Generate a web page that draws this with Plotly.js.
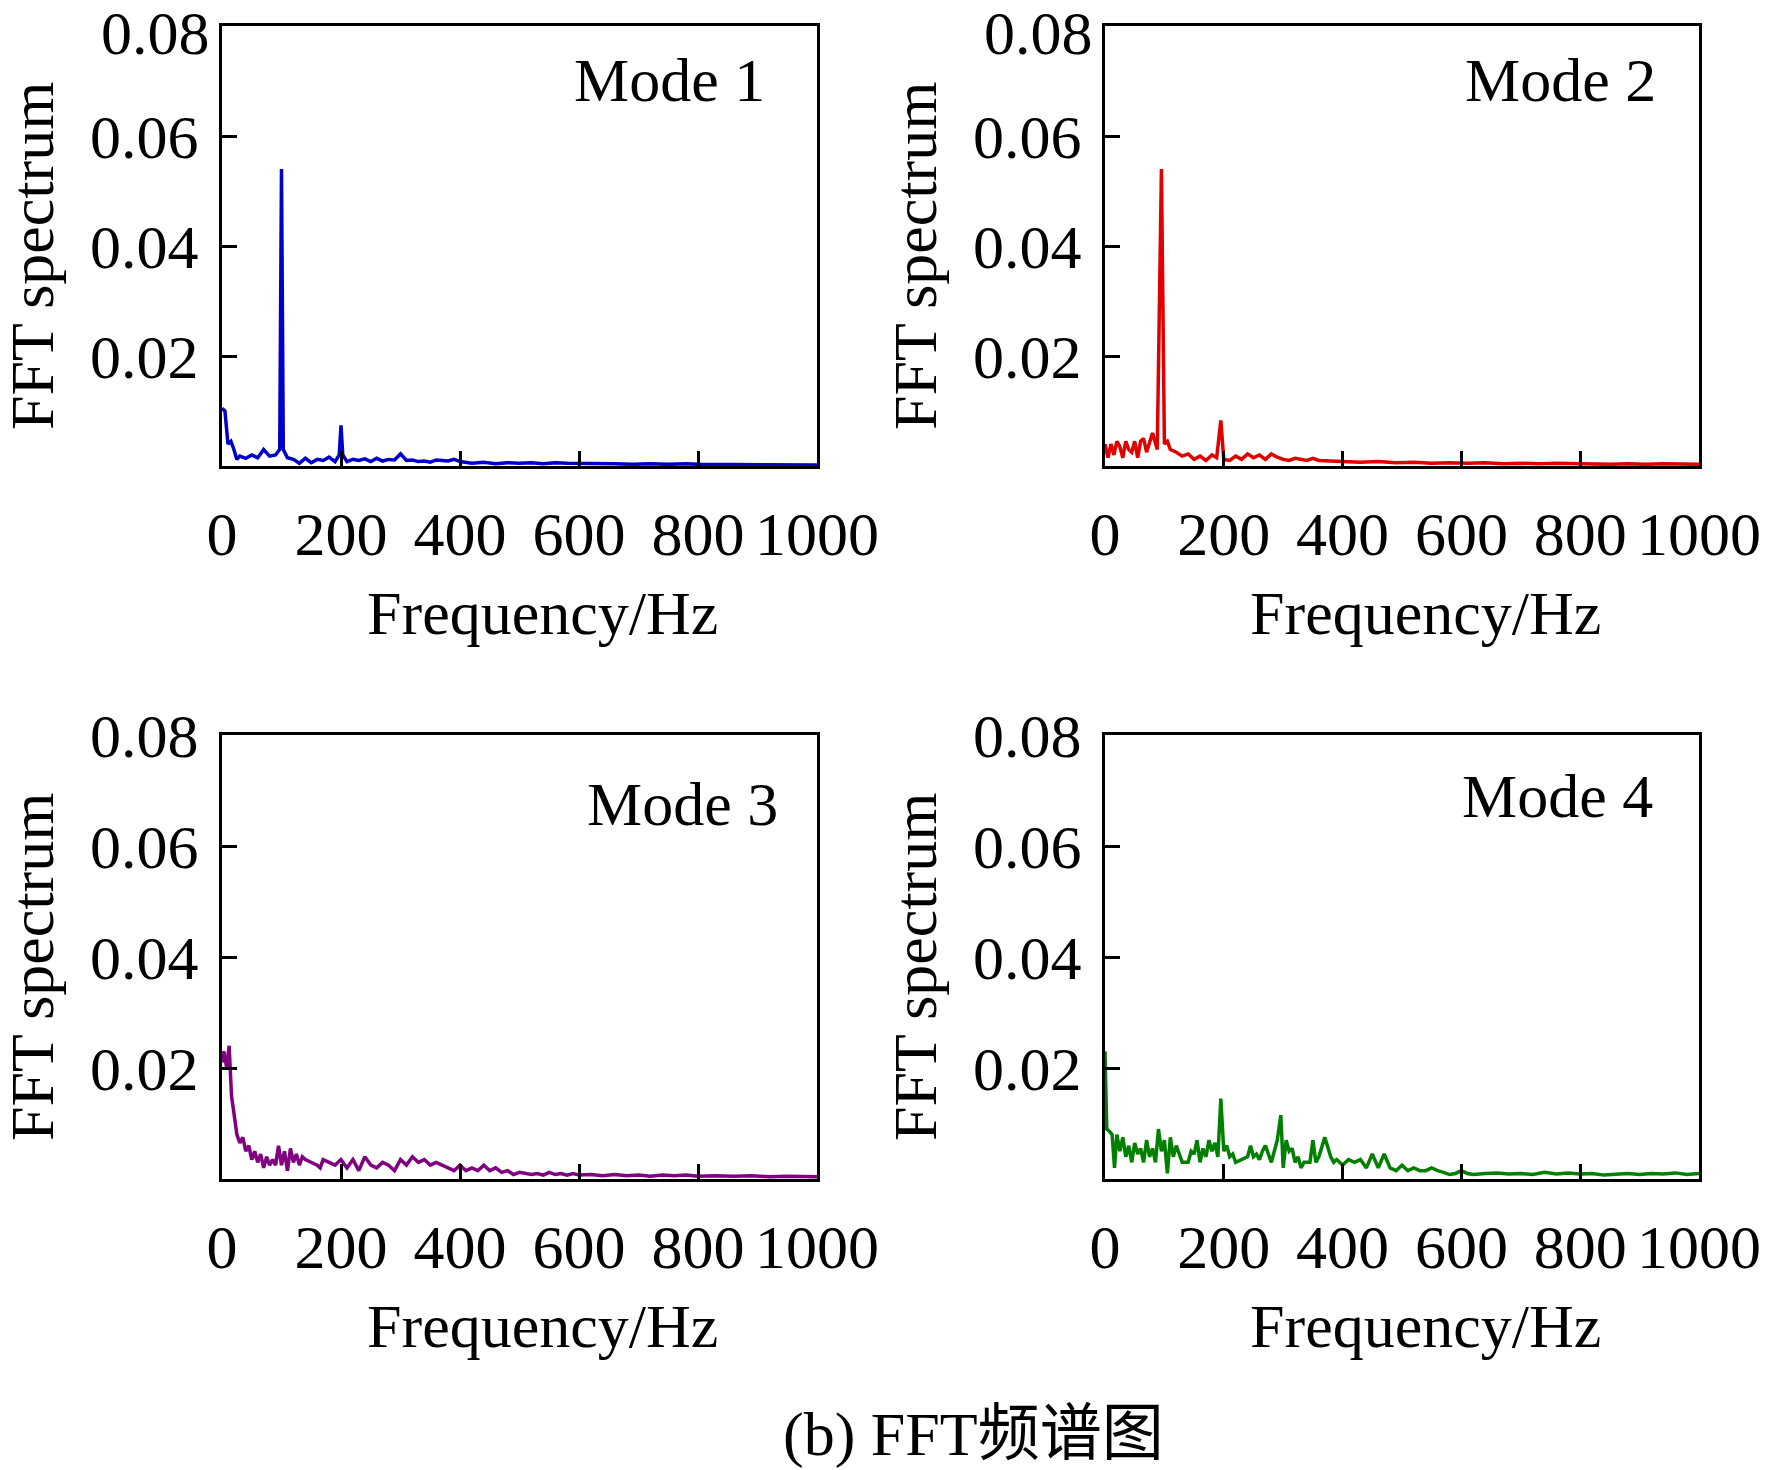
<!DOCTYPE html>
<html>
<head>
<meta charset="utf-8">
<script src="https://cdn.plot.ly/plotly-3.0.1.min.js"></script>
<style>html,body{margin:0;padding:0;background:#fff}#chart{width:1788px;height:1470px}</style>
</head>
<body>
<div id="chart"></div>
<script>
// FFT spectra of four modes
const modeNames = ['Mode 1', 'Mode 2', 'Mode 3', 'Mode 4'];
const modeColors = ['#0000c8', '#e00000', '#800080', '#008000'];

const freq1 = [0,5,10,15,20,25,30,40,50,60,70,80,90,97,100,103,110,120,130,140,150,160,170,180,190,197,200,203,210,220,230,240,250,260,270,280,290,300,310,320,330,340,350,360,370,380,390,400,420,440,460,480,500,520,540,560,580,600,630,660,690,720,750,780,800,830,860,890,920,950,980,1000];
const amp1 = [0.0105,0.0100,0.0040,0.0045,0.0030,0.0012,0.0018,0.0014,0.0020,0.0015,0.0030,0.0018,0.0020,0.0030,0.0540,0.0030,0.0015,0.0012,0.0005,0.0014,0.0006,0.0012,0.0010,0.0016,0.0008,0.0020,0.0074,0.0020,0.0008,0.0012,0.0010,0.0013,0.0008,0.0014,0.0009,0.0012,0.0011,0.0022,0.0010,0.0011,0.0008,0.0009,0.0007,0.0011,0.0010,0.0009,0.0012,0.0008,0.0005,0.0007,0.0004,0.0006,0.0005,0.0006,0.0004,0.0006,0.0005,0.0005,0.0004,0.0004,0.0003,0.0004,0.0003,0.0004,0.0003,0.0003,0.0003,0.0002,0.0003,0.0002,0.0003,0.0002];

const freq2 = [0,5,10,15,20,25,30,35,40,45,50,55,60,65,70,75,80,88,95,100,105,110,120,130,140,150,160,170,180,188,195,200,210,220,230,240,250,260,270,280,290,300,310,320,330,340,350,360,380,400,430,460,490,520,550,580,610,640,670,700,730,760,790,820,850,880,910,940,970,1000];
const amp2 = [0.0040,0.0015,0.0040,0.0020,0.0045,0.0035,0.0015,0.0045,0.0030,0.0025,0.0045,0.0015,0.0045,0.0050,0.0025,0.0045,0.0060,0.0030,0.0540,0.0040,0.0045,0.0030,0.0025,0.0018,0.0022,0.0012,0.0018,0.0010,0.0020,0.0015,0.0083,0.0012,0.0010,0.0018,0.0012,0.0022,0.0015,0.0020,0.0012,0.0022,0.0016,0.0012,0.0010,0.0014,0.0012,0.0010,0.0014,0.0010,0.0009,0.0008,0.0007,0.0008,0.0006,0.0007,0.0005,0.0006,0.0005,0.0006,0.0004,0.0005,0.0004,0.0005,0.0004,0.0004,0.0003,0.0004,0.0003,0.0004,0.0003,0.0003];

const freq3 = [0,3,8,12,16,20,25,30,35,40,45,50,55,60,65,70,75,80,85,90,95,100,105,110,115,120,125,130,135,140,150,160,165,170,180,190,200,210,220,230,240,250,260,270,280,290,300,310,320,330,340,350,360,370,380,390,400,410,420,430,440,450,460,470,480,490,500,510,520,530,540,550,560,570,580,590,600,620,640,660,680,700,720,740,760,780,800,830,860,890,920,950,980,1000];
const amp3 = [0.0210,0.0230,0.0200,0.0240,0.0150,0.0120,0.0080,0.0065,0.0075,0.0050,0.0060,0.0035,0.0050,0.0030,0.0045,0.0020,0.0040,0.0025,0.0035,0.0025,0.0060,0.0025,0.0050,0.0015,0.0055,0.0030,0.0045,0.0025,0.0040,0.0035,0.0030,0.0025,0.0020,0.0035,0.0030,0.0025,0.0035,0.0020,0.0035,0.0015,0.0040,0.0025,0.0020,0.0030,0.0025,0.0015,0.0035,0.0025,0.0040,0.0030,0.0035,0.0025,0.0030,0.0025,0.0020,0.0015,0.0025,0.0015,0.0020,0.0015,0.0025,0.0015,0.0020,0.0012,0.0015,0.0008,0.0012,0.0010,0.0008,0.0010,0.0007,0.0012,0.0008,0.0010,0.0007,0.0010,0.0007,0.0008,0.0006,0.0008,0.0006,0.0007,0.0005,0.0007,0.0006,0.0007,0.0005,0.0006,0.0005,0.0006,0.0004,0.0005,0.0004,0.0004];

const freq4 = [0,3,8,12,16,20,25,30,35,40,45,50,55,60,65,70,75,80,85,90,95,100,105,110,115,120,125,130,140,145,150,155,160,165,170,175,180,185,190,195,200,205,210,215,220,230,240,245,250,255,260,265,270,280,290,296,300,305,310,315,320,325,330,335,345,350,355,360,370,380,385,390,400,410,420,430,440,450,460,470,480,490,500,510,520,530,540,550,560,570,580,590,600,610,620,640,660,680,700,720,740,760,780,800,820,840,860,880,900,920,940,960,980,1000];
const amp4 = [0.0230,0.0090,0.0085,0.0080,0.0020,0.0080,0.0050,0.0075,0.0040,0.0060,0.0030,0.0065,0.0045,0.0055,0.0030,0.0070,0.0040,0.0055,0.0030,0.0090,0.0050,0.0070,0.0010,0.0075,0.0040,0.0060,0.0045,0.0030,0.0030,0.0050,0.0045,0.0070,0.0030,0.0055,0.0040,0.0070,0.0050,0.0065,0.0040,0.0145,0.0050,0.0060,0.0040,0.0045,0.0030,0.0035,0.0040,0.0060,0.0040,0.0045,0.0035,0.0050,0.0060,0.0030,0.0070,0.0115,0.0020,0.0070,0.0050,0.0055,0.0030,0.0040,0.0020,0.0030,0.0030,0.0070,0.0030,0.0040,0.0075,0.0040,0.0030,0.0035,0.0025,0.0035,0.0030,0.0035,0.0020,0.0045,0.0020,0.0045,0.0020,0.0015,0.0025,0.0015,0.0020,0.0015,0.0015,0.0020,0.0015,0.0012,0.0008,0.0010,0.0015,0.0010,0.0008,0.0010,0.0011,0.0009,0.0010,0.0008,0.0012,0.0009,0.0011,0.0009,0.0010,0.0007,0.0009,0.0010,0.0008,0.0010,0.0009,0.0011,0.0008,0.0010];

const freqs = [freq1, freq2, freq3, freq4];
const amps = [amp1, amp2, amp3, amp4];
const xTicks = [0, 200, 400, 600, 800, 1000];
const yTicks = [0.02, 0.04, 0.06, 0.08];
const yTickText = ['0.02', '0.04', '0.06', '0.08'];

const W = 1788, H = 1470;
// plot boxes in pixels: [left, right, top, bottom]; top row leaves room for its 0.08 label
const boxes = [[222, 817, 26, 466], [1105, 1699, 26, 466], [222, 817, 735, 1179], [1105, 1699, 735, 1179]];
const modePos = [[669, 80], [1560, 80], [682, 804], [1557, 796]];
const font = 'Liberation Serif, Times New Roman, serif';
const fs = 62;

const data = [];
const layout = {
    width: W, height: H, margin: { l: 0, r: 0, t: 0, b: 0 },
    paper_bgcolor: '#fff', plot_bgcolor: '#fff', showlegend: false,
    font: { family: font, size: fs, color: '#000' },
    annotations: [],
};

boxes.forEach((b, i) => {
    const n = i === 0 ? '' : String(i + 1);
    data.push({
        x: freqs[i], y: amps[i], type: 'scatter', mode: 'lines',
        xaxis: 'x' + n, yaxis: 'y' + n,
        line: { color: modeColors[i], width: 3.5 }, hoverinfo: 'skip',
    });
    const axCommon = { showline: true, mirror: true, linecolor: '#000', linewidth: 3, showgrid: false, zeroline: false,
        ticks: 'inside', ticklen: 15, tickwidth: 3, tickcolor: '#000', tickfont: { family: font, size: fs, color: '#000' } };
    layout['xaxis' + n] = Object.assign({}, axCommon, {
        domain: [b[0] / W, b[1] / W], anchor: 'y' + n, range: [0, 1000],
        tickmode: 'array', tickvals: xTicks, ticklabelstandoff: 12,
    });
    // top row: 0.08 label drawn as annotation because plotly drops it at the page edge
    const yv = i < 2 ? yTicks.slice(0, 3) : yTicks;
    const yt = i < 2 ? yTickText.slice(0, 3) : yTickText;
    layout['yaxis' + n] = Object.assign({}, axCommon, {
        domain: [1 - b[3] / H, 1 - b[2] / H], anchor: 'x' + n, range: [0, 0.08],
        tickmode: 'array', tickvals: yv, ticktext: yt, ticklabelstandoff: 8,
    });
    if (i < 2) {
        layout.annotations.push({ text: yTickText[3], xref: 'x' + n + ' domain', yref: 'paper', x: 0, xshift: -10,
            y: 1 - 33 / H, xanchor: 'right', yanchor: 'middle', showarrow: false, font: { family: font, size: fs } });
    }
    const cy = (b[2] + b[3]) / 2;
    layout.annotations.push(
        { text: 'FFT spectrum', xref: 'paper', yref: 'paper', x: (b[0] - 190) / W, y: 1 - (cy + 10) / H,
          textangle: -90, showarrow: false, xanchor: 'center', yanchor: 'middle', font: { family: font, size: fs } },
        { text: 'Frequency/Hz', xref: 'paper', yref: 'paper', x: (b[0] + 320) / W, y: 1 - (b[3] + 147) / H,
          showarrow: false, xanchor: 'center', yanchor: 'middle', font: { family: font, size: fs } },
        { text: modeNames[i], xref: 'paper', yref: 'paper', x: modePos[i][0] / W, y: 1 - modePos[i][1] / H,
          showarrow: false, xanchor: 'center', yanchor: 'middle', font: { family: font, size: fs } }
    );
});

layout.annotations.push({ text: '(b) FFT频谱图', xref: 'paper', yref: 'paper', x: 973 / W, y: 1 - 1434 / H,
    showarrow: false, xanchor: 'center', yanchor: 'middle', font: { family: 'Liberation Serif, Noto Sans CJK SC, serif', size: fs } });

Plotly.newPlot('chart', data, layout, { displayModeBar: false, staticPlot: true });
</script>
</body>
</html>
